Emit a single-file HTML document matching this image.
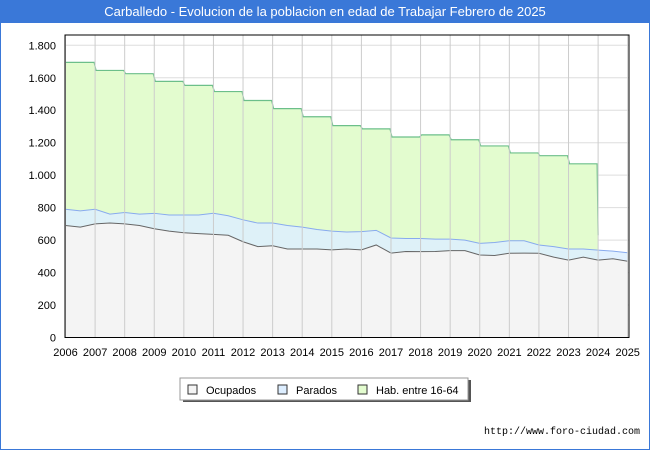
<!DOCTYPE html>
<html><head><meta charset="utf-8"><style>
body{margin:0;width:650px;height:450px;background:#fff;font-family:"Liberation Sans",sans-serif;overflow:hidden;position:relative}
#title{position:absolute;left:0;top:0;width:650px;height:23px;background:#3a78d8;color:#fff;font-size:13px;text-align:center;line-height:23px}
#frame{position:absolute;left:0;top:23px;width:648px;height:426px;border-left:1px solid #3a78d8;border-right:1px solid #3a78d8;border-bottom:1px solid #3a78d8}
svg{position:absolute;left:0;top:0}
#url{position:absolute;right:10px;top:427px;font-size:10px;font-family:"Liberation Mono",monospace}
</style></head><body>
<div id="title">Carballedo - Evolucion de la poblacion en edad de Trabajar Febrero de 2025</div>
<div id="frame"></div>
<svg id="chart" width="650" height="450"></svg>
<div id="url">http://www.foro-ciudad.com</div>
<script>
const years=[2006,2007,2008,2009,2010,2011,2012,2013,2014,2015,2016,2017,2018,2019,2020,2021,2022,2023,2024,2025];
const yTicks=[0,200,400,600,800,1000,1200,1400,1600,1800];
const yTickLabels=["0","200","400","600","800","1.000","1.200","1.400","1.600","1.800"];
const habYears=[2006,2007,2008,2009,2010,2011,2012,2013,2014,2015,2016,2017,2018,2019,2020,2021,2022,2023];
const habValues=[1695,1645,1625,1578,1553,1515,1460,1410,1360,1305,1285,1235,1248,1218,1180,1137,1120,1070];
const habEnd=630;
const halfYears=[2006,2006.5,2007,2007.5,2008,2008.5,2009,2009.5,2010,2010.5,2011,2011.5,2012,2012.5,2013,2013.5,2014,2014.5,2015,2015.5,2016,2016.5,2017,2017.5,2018,2018.5,2019,2019.5,2020,2020.5,2021,2021.5,2022,2022.5,2023,2023.5,2024,2024.5,2025];
const ocupados=[690,680,700,705,700,690,670,655,645,640,635,630,590,560,565,545,545,545,540,545,540,570,520,530,529,530,535,535,508,505,519,520,519,495,477,495,477,485,470];
const totalActivos=[790,780,790,760,770,760,765,755,755,755,765,750,725,705,705,690,680,665,655,650,652,660,613,610,610,606,606,600,580,585,596,596,570,560,545,545,538,532,522];
const L=65,R=629,T=35,B=337.5;
const x=v=>L+(v-2006)*(627.7-65.5)/19+0.5;
const y=v=>B-v*(292.2/1800);
const svg=document.getElementById('chart');
const NS='http://www.w3.org/2000/svg';
function mk(t,a,p){const e=document.createElementNS(NS,t);for(const k in a)e.setAttribute(k,a[k]);(p||svg).appendChild(e);return e;}
let e;
e=mk('rect',{x:L,y:T,width:R-L,height:B-T,fill:'#fff'});


yTicks.forEach((v,i)=>{
 e=mk('line',{x1:L,x2:R,y1:y(v),y2:y(v),stroke:'#ddd'});
 
 
 e=mk('text',{x:56,y:y(v)+4,'text-anchor':'end','font-size':11,fill:'#000'});
 e.textContent=yTickLabels[i];
 
 
});
// hab area
let hp=`M${x(habYears[0])},${B}`;
habYears.forEach((yr,i)=>{hp+=` L${x(yr)},${y(habValues[i])} L${x(yr+1)-1},${y(habValues[i])}`;});
hp+=` L${x(2024)},${y(habEnd)} L${x(2024)},${B} Z`;
e=mk('path',{d:hp,fill:'#e3fccf',stroke:'none'});


let hl=`M${x(habYears[0])},${y(habValues[0])}`;
habYears.forEach((yr,i)=>{hl+=` L${x(yr)+ (i?1:0)},${y(habValues[i])} L${x(yr+1)-1},${y(habValues[i])}`;});
hl+=` L${x(2024)},${y(habEnd)}`;
e=mk('path',{d:hl,fill:'none',stroke:'#6cbf8a','stroke-width':1.2});


function area(vals){let d=`M${x(halfYears[0])},${B}`;halfYears.forEach((h,i)=>d+=` L${x(h)},${y(vals[i])}`);return d+` L${x(2025)},${B} Z`;}
function line(vals){return halfYears.map((h,i)=>(i?'L':'M')+x(h)+','+y(vals[i])).join(' ');}
e=mk('path',{d:area(totalActivos),fill:'#ddeeff',opacity:0.85});


e=mk('path',{d:line(totalActivos),fill:'none',stroke:'#88aaee'});


e=mk('path',{d:area(ocupados),fill:'#f4f4f4'});


e=mk('path',{d:line(ocupados),fill:'none',stroke:'#666'});


years.forEach(yr=>{
 e=mk('line',{x1:x(yr),x2:x(yr),y1:T,y2:B,stroke:'#ccc'});
 
 
 e=mk('text',{x:x(yr),y:356,'text-anchor':'middle','font-size':11,fill:'#000'});
 e.textContent=yr;
 
 
});
e=mk('rect',{x:L,y:T,width:R-L,height:B-T,fill:'none',stroke:'#000'});


// legend
e=mk('rect',{x:183,y:380,width:288,height:22,fill:'#555'});


e=mk('rect',{x:180,y:378,width:288,height:22,fill:'#fff',stroke:'#999'});


[['Ocupados','#f4f4f4',188],['Parados','#ddeeff',278],['Hab. entre 16-64','#e3fccf',358]].forEach(([t,c,lx])=>{
 e=mk('rect',{x:lx,y:385,width:9,height:9,fill:c,stroke:'#333'});
 
 
 e=mk('text',{x:lx+18,y:394,'font-size':11});
 e.textContent=t;
 
 
});
</script>
</body></html>
